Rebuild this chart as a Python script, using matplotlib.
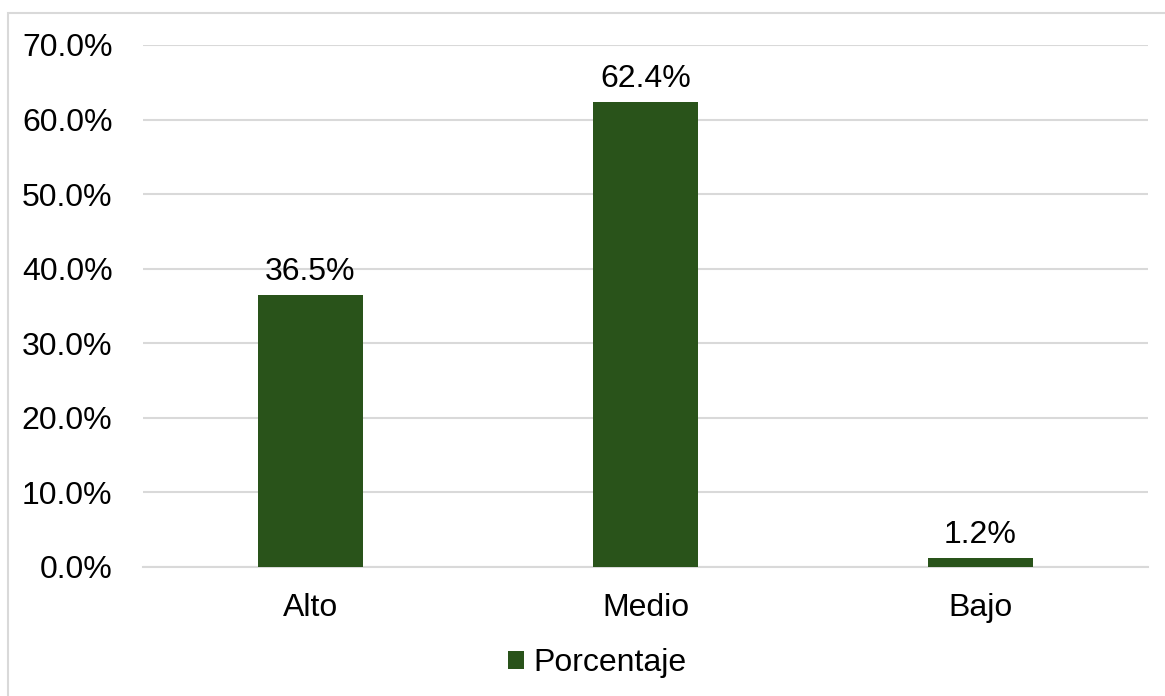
import matplotlib
matplotlib.use('Agg')
import matplotlib.pyplot as plt
from matplotlib.patches import Rectangle
from matplotlib.ticker import FuncFormatter

categorias = ['Alto', 'Medio', 'Bajo']
porcentajes = [36.5, 62.4, 1.2]
serie = 'Porcentaje'

verde = '#29531a'
gris = '#d9d9d9'

plt.rcParams['font.family'] = ['Liberation Sans', 'DejaVu Sans']

fig = plt.figure(figsize=(11.65, 6.96), dpi=100)
ax = fig.add_axes([143 / 1165, 1 - 567 / 696, (1148 - 143) / 1165, (567 - 45) / 696])

x = range(len(categorias))
bars = ax.bar(x, porcentajes, width=0.313, color=verde, label=serie, zorder=3)

for b, v in zip(bars, porcentajes):
    ax.annotate(f'{v:.1f}%', (b.get_x() + b.get_width() / 2, v),
                xytext=(0, 8), textcoords='offset pixels',
                ha='center', va='bottom', fontsize=23)

ax.set_xlim(-0.5, 2.5)
ax.set_ylim(0, 70)
ax.set_yticks(range(0, 71, 10))
ax.yaxis.set_major_formatter(FuncFormatter(lambda v, p: f'{v:.1f}%'))
ax.set_xticks(list(x))
ax.set_xticklabels(categorias)
ax.tick_params(axis='both', length=0, labelsize=23)
ax.tick_params(axis='x', pad=19)
ax.tick_params(axis='y', pad=22)
ax.grid(axis='y', color=gris, linewidth=1.5, zorder=0)
for s in ['top', 'right', 'left']:
    ax.spines[s].set_visible(False)
ax.spines['bottom'].set_color(gris)
ax.spines['bottom'].set_linewidth(1.5)

leg = fig.legend(loc='center', bbox_to_anchor=(597 / 1165, 1 - 663 / 696),
                 frameon=False, fontsize=23, handlelength=0.5, handleheight=0.5,
                 handletextpad=0.3)

# borde del grafico
fig.patches.append(Rectangle((7.5 / 1165, -0.1), 1.2, 1 - 13.5 / 696 + 0.1,
                             transform=fig.transFigure, fill=False,
                             edgecolor=gris, linewidth=1.5))

fig.savefig('out.png', dpi=100)
